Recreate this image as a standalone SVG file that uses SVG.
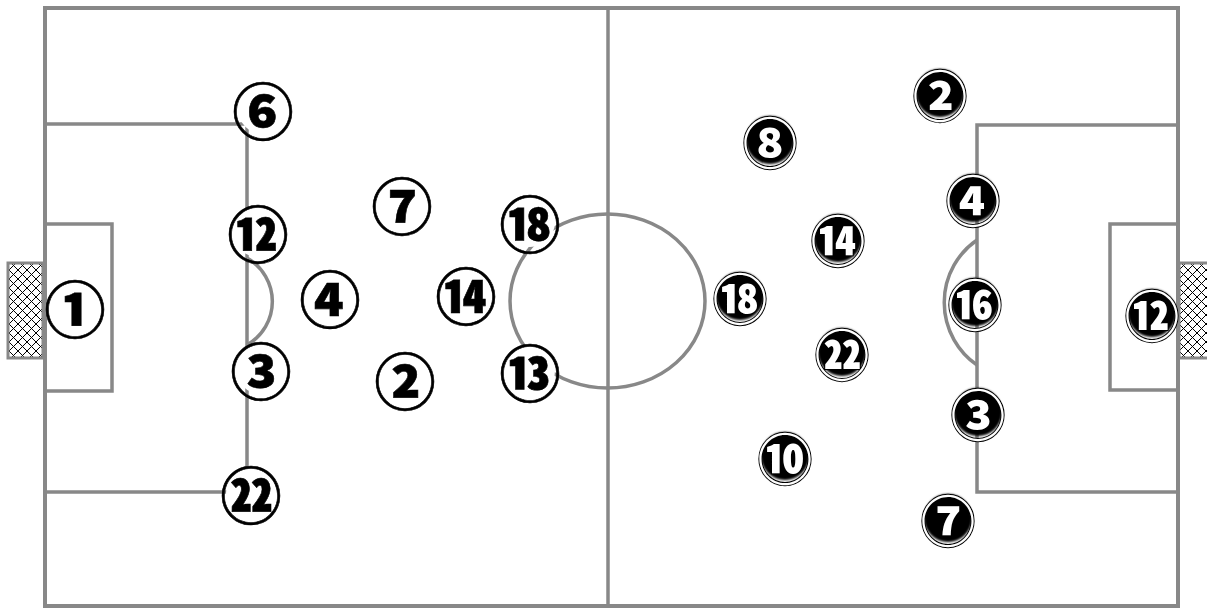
<svg xmlns="http://www.w3.org/2000/svg" width="1207" height="608" viewBox="0 0 1207 608">
<defs>
<pattern id="net" patternUnits="userSpaceOnUse" width="9" height="9">
<path d="M0,0 L9,9 M9,0 L0,9" stroke="#000" stroke-width="1"/>
</pattern>
<filter id="glow" x="-30%" y="-30%" width="160%" height="160%">
<feGaussianBlur stdDeviation="1.2"/>
</filter>
<style>
.ln{fill:none;stroke:#888;stroke-width:3.5}
.outer{fill:#fff;stroke:#888;stroke-width:4}
.netbox{fill:url(#net);stroke:#888;stroke-width:3}
.bgw{fill:#fff}
.t{font-family:"Noto Sans CJK JP","DejaVu Sans",sans-serif;font-weight:900;text-anchor:middle;dominant-baseline:central}
.tl{font-size:61px;fill:#000;stroke:#000;stroke-width:0.6}
.tr{font-size:54px;fill:#fff;stroke:#000;stroke-width:2;paint-order:stroke}
.bk{fill:#000}
</style>
</defs>
<rect width="1207" height="608" fill="#fff"/>
<g id="field">
<rect class="netbox" x="8" y="263" width="35" height="95"/>
<rect class="netbox" x="1179" y="263" width="30" height="95"/>
<rect class="outer" x="45" y="8" width="1133" height="598"/>
<line class="ln" x1="608" y1="8" x2="608" y2="606"/>
<ellipse class="ln" cx="607.5" cy="301" rx="97.5" ry="87"/>
<path class="ln" d="M45,124 H247 V492 H45"/>
<path class="ln" d="M45,224 H112 V391 H45"/>
<path class="ln" d="M247,258 A50,50 0 0 1 247,345"/>
<path class="ln" d="M1178,125 H977 V492 H1178"/>
<path class="ln" d="M1178,224 H1110 V390 H1178"/>
<path class="ln" d="M977,240 A76,76 0 0 0 977,365"/>
</g>
<g id="team-left">
<g id="L1"><circle class="bgw" cx="75" cy="307" r="25"/><text class="t tl" x="75" y="306">①</text></g>
<g id="L6"><circle class="bgw" cx="263" cy="109" r="25"/><text class="t tl" x="263" y="108">⑥</text></g>
<g id="L12"><circle class="bgw" cx="258" cy="232" r="25"/><text class="t tl" x="258" y="231">⑫</text></g>
<g id="L4"><circle class="bgw" cx="330" cy="297" r="25"/><text class="t tl" x="330" y="296">④</text></g>
<g id="L7"><circle class="bgw" cx="402" cy="204" r="25"/><text class="t tl" x="402" y="203">⑦</text></g>
<g id="L18"><circle class="bgw" cx="530" cy="222" r="25"/><text class="t tl" x="530" y="221">⑱</text></g>
<g id="L14"><circle class="bgw" cx="466" cy="294" r="25"/><text class="t tl" x="466" y="293">⑭</text></g>
<g id="L3"><circle class="bgw" cx="261" cy="369" r="25"/><text class="t tl" x="261" y="368">③</text></g>
<g id="L2"><circle class="bgw" cx="405" cy="379" r="25"/><text class="t tl" x="405" y="378">②</text></g>
<g id="L13"><circle class="bgw" cx="530" cy="371" r="25"/><text class="t tl" x="530" y="370">⑬</text></g>
<g id="L22"><circle class="bgw" cx="251" cy="493" r="25"/><text class="t tl" x="251" y="492">㉒</text></g>
</g>
<g id="team-right">
<g id="R2"><circle class="bk" cx="940" cy="93" r="24" filter="url(#glow)"/><text class="t tr" x="940" y="93">②</text></g>
<g id="R8"><circle class="bk" cx="770" cy="140" r="24" filter="url(#glow)"/><text class="t tr" x="770" y="140">⑧</text></g>
<g id="R4"><circle class="bk" cx="973" cy="198" r="24" filter="url(#glow)"/><text class="t tr" x="973" y="198">④</text></g>
<g id="R14"><circle class="bk" cx="838" cy="238" r="24" filter="url(#glow)"/><text class="t tr" x="838" y="238">⑭</text></g>
<g id="R18"><circle class="bk" cx="740" cy="296" r="24" filter="url(#glow)"/><text class="t tr" x="740" y="296">⑱</text></g>
<g id="R16"><circle class="bk" cx="975" cy="302" r="24" filter="url(#glow)"/><text class="t tr" x="975" y="302">⑯</text></g>
<g id="R12"><circle class="bk" cx="1152" cy="313" r="24" filter="url(#glow)"/><text class="t tr" x="1152" y="313">⑫</text></g>
<g id="R22"><circle class="bk" cx="842" cy="352" r="24" filter="url(#glow)"/><text class="t tr" x="842" y="352">㉒</text></g>
<g id="R3"><circle class="bk" cx="978" cy="412" r="24" filter="url(#glow)"/><text class="t tr" x="978" y="412">③</text></g>
<g id="R10"><circle class="bk" cx="785" cy="456" r="24" filter="url(#glow)"/><text class="t tr" x="785" y="456">⑩</text></g>
<g id="R7"><circle class="bk" cx="948" cy="518" r="24" filter="url(#glow)"/><text class="t tr" x="948" y="518">⑦</text></g>
</g>
</svg>
